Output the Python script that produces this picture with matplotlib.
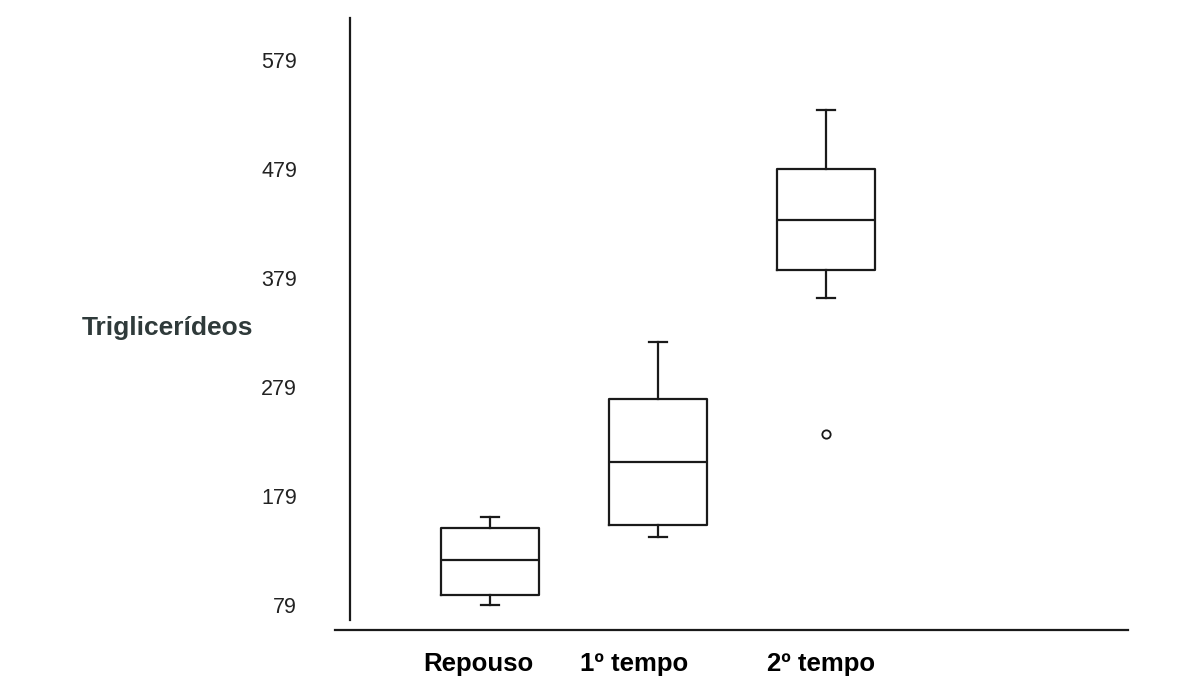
import matplotlib.pyplot as plt

plt.rcParams['font.family'] = ['Liberation Sans', 'DejaVu Sans']

# Box plot statistics
grupos = ['Repouso', '1º tempo', '2º tempo']
whisker_low = [79, 141, 361]
q1 = [88, 152, 386]
mediana = [120, 210, 432]
q3 = [150, 268, 479]
whisker_high = [160, 320, 533]
outliers = [[], [], [236]]

yticks = [79, 179, 279, 379, 479, 579]

stats = []
for i in range(len(grupos)):
    stats.append({'whislo': whisker_low[i], 'q1': q1[i], 'med': mediana[i],
                  'q3': q3[i], 'whishi': whisker_high[i], 'fliers': outliers[i],
                  'label': grupos[i]})

fig = plt.figure(figsize=(11.91, 6.86), dpi=100)
ax = fig.add_axes([335 / 1191, 1 - 630 / 686, 793 / 1191, 612 / 686])

ink = '#1a1a1a'
ax.bxp(stats, positions=[1, 2, 3], widths=0.58, capwidths=0.107,
       showfliers=True,
       boxprops=dict(color=ink, linewidth=1.6),
       medianprops=dict(color=ink, linewidth=1.6),
       whiskerprops=dict(color=ink, linewidth=1.6),
       capprops=dict(color=ink, linewidth=1.6),
       flierprops=dict(marker='o', markersize=6, markerfacecolor='white',
                       markeredgecolor=ink, markeredgewidth=1.3))

ax.set_xlim(0.0774, 4.798)
ax.set_ylim(56.06, 617.5)

# axis lines: detached vertical line and long base line
for s in ['top', 'right']:
    ax.spines[s].set_visible(False)
ax.spines['left'].set_position(('data', 0.1667))
ax.spines['left'].set_bounds(65.2, 617.5)
ax.spines['left'].set_linewidth(1.6)
ax.spines['left'].set_color(ink)
ax.spines['bottom'].set_linewidth(1.6)
ax.spines['bottom'].set_color(ink)

ax.set_yticks(yticks)
ax.set_yticklabels([str(v) for v in yticks], fontsize=15.5, color='#222222')
ax.tick_params(axis='y', length=0, pad=38)
ax.set_xticks([0.93, 1.86, 2.97])
ax.set_xticklabels(grupos, fontsize=18.5, fontweight='bold', color='black')
ax.tick_params(axis='x', length=0, pad=16)

fig.text(82 / 1191, 1 - 328 / 686, 'Triglicerídeos', fontsize=19,
         fontweight='bold', color='#2f3a3a', ha='left', va='center')

fig.savefig('out.png', dpi=100, facecolor='white')
